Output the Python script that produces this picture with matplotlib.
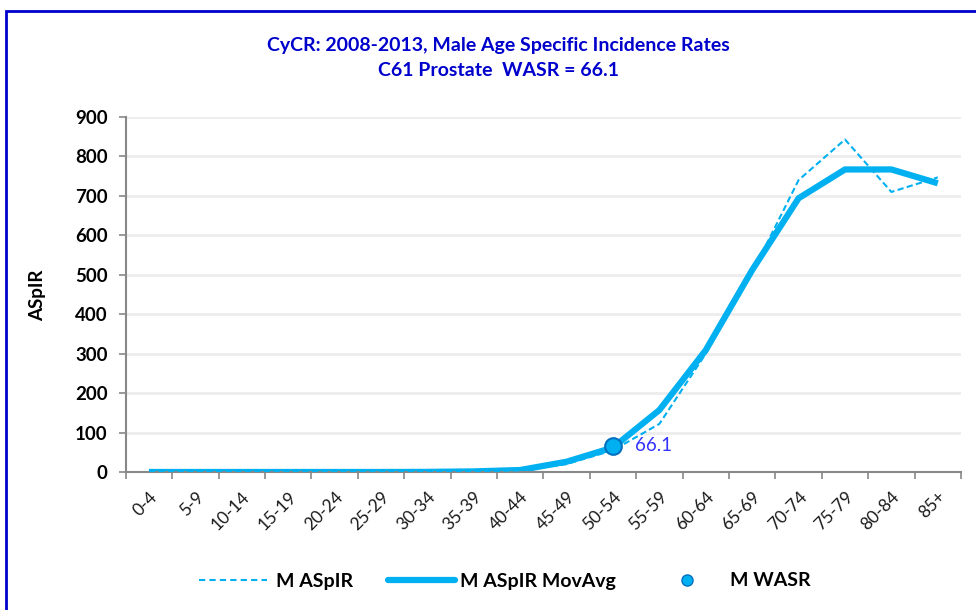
import matplotlib
matplotlib.use("Agg")
import matplotlib.pyplot as plt
from matplotlib.patches import Rectangle
from matplotlib.lines import Line2D
import numpy as np

age_groups = ["0-4", "5-9", "10-14", "15-19", "20-24", "25-29", "30-34", "35-39",
              "40-44", "45-49", "50-54", "55-59", "60-64", "65-69", "70-74", "75-79",
              "80-84", "85+"]
m_aspir = [0, 0, 0, 0, 0, 0, 0.5, 1.5, 4, 20, 55, 122, 300, 505, 740, 843, 710, 747]
m_aspir_movavg = [0, 0, 0, 0, 0, 0, 0.3, 1.5, 5, 26, 62, 157, 309, 512, 694, 767, 767, 732]
wasr_value = 66.1
wasr_group = "50-54"

title_lines = ["CyCR: 2008-2013, Male Age Specific Incidence Rates",
               "C61 Prostate  WASR = 66.1"]
y_ticks = [0, 100, 200, 300, 400, 500, 600, 700, 800, 900]
legend_labels = ["M ASpIR", "M ASpIR MovAvg", "M WASR"]

LINE_C = "#00B0F0"
TITLE_C = "#0000CC"
DASH = (0, (3, 1.6))

plt.rcParams['font.family'] = ['Lato', 'DejaVu Sans']

W, H = 976, 610
fig = plt.figure(figsize=(W / 100, H / 100), dpi=100)
ax = fig.add_axes([125.7 / W, 1 - 472 / H, (961 - 125.7) / W, (472 - 117) / H])

# blue border
fig.patches.append(Rectangle((5.5 / W, -0.05), 1.2, (H - 11) / H + 0.05,
                             transform=fig.transFigure, fill=False,
                             edgecolor="#0000CC", linewidth=2, zorder=0))

x = np.arange(len(age_groups))
ax.plot(x, m_aspir, color=LINE_C, linewidth=1.5, linestyle=DASH, zorder=3)
ax.plot(x, m_aspir_movavg, color=LINE_C, linewidth=4.5, solid_capstyle="butt",
        solid_joinstyle="miter", zorder=2)
wx = age_groups.index(wasr_group)
ax.plot([wx], [wasr_value], marker="o", markersize=12, markerfacecolor=LINE_C,
        markeredgecolor="#0070C0", markeredgewidth=1.5, linestyle="none", zorder=4)
ax.annotate(f"{wasr_value}", (wx, wasr_value), xytext=(16, 0),
            textcoords="offset points", va="center", ha="left",
            color="#3333FF", fontsize=13.5)

ax.set_xlim(-0.5, len(age_groups) - 0.5)
ax.set_ylim(0, 900)
ax.set_yticks(y_ticks)
ax.set_yticklabels([str(v) for v in y_ticks], fontweight="bold", fontsize=13.5)
ax.set_xticks(x)
ax.set_xticklabels(age_groups, rotation=45, ha="right", rotation_mode="anchor",
                   fontsize=12.5)
ax.set_xticks(np.arange(-0.5, len(age_groups)), minor=True)
ax.tick_params(axis="x", which="major", length=0, pad=12, colors="#1a1a1a")
ax.tick_params(axis="x", which="minor", length=5, color="#888888", width=1.2)
ax.tick_params(axis="y", length=5, color="#888888", width=1.2, pad=8)

ax.grid(axis="y", color="#EDEDED", linewidth=2)
ax.set_axisbelow(True)
for s in ["top", "right"]:
    ax.spines[s].set_visible(False)
for s in ["left", "bottom"]:
    ax.spines[s].set_color("#888888")
    ax.spines[s].set_linewidth(1.5)

fig.text(38 / W, 1 - 295 / H, "ASpIR", rotation=90, ha="center", va="center",
         fontweight="bold", fontsize=13.5)

fig.text(498 / W, 1 - 46 / H, title_lines[0], ha="center", va="center",
         color=TITLE_C, fontweight="bold", fontsize=14)
fig.text(498 / W, 1 - 71 / H, title_lines[1], ha="center", va="center",
         color=TITLE_C, fontweight="bold", fontsize=14)

# legend (three single-entry legends placed like the Excel legend)
handles = [
    Line2D([], [], color=LINE_C, linewidth=1.5, linestyle=(0, (3, 2))),
    Line2D([], [], color=LINE_C, linewidth=4.5, solid_capstyle="round"),
    Line2D([], [], marker="o", markersize=8, markerfacecolor=LINE_C,
           markeredgecolor="#0070C0", linestyle="none"),
]
specs = [(199, 3.5, 0.45), (388, 3.45, 0.25), (677, 1.0, 1.7)]
ly = 1 - 581 / H
for h, lab, (x0, hl, tp) in zip(handles, legend_labels, specs):
    fig.legend([h], [lab], loc="center left", bbox_to_anchor=(x0 / W, ly),
               frameon=False, borderpad=0, borderaxespad=0,
               prop={"weight": "bold", "size": 14}, handlelength=hl,
               handletextpad=tp)

fig.savefig("out.png", dpi=100)
